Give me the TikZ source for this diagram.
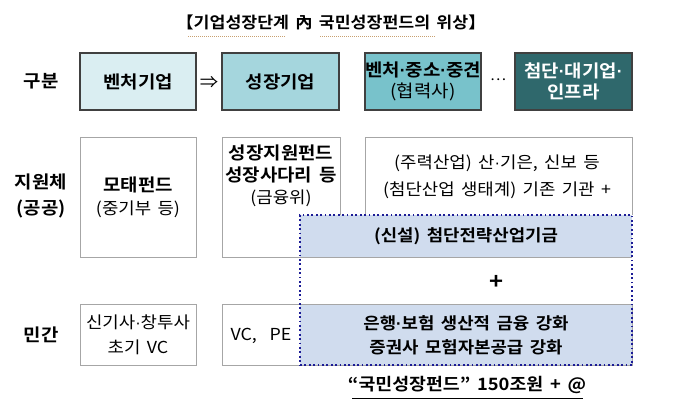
\documentclass[tikz,border=0pt]{standalone}
\usepackage{fontspec}
\setmainfont{Noto Sans CJK KR}[BoldFont={Noto Sans CJK KR Bold}, FakeStretch=1.08, WordSpace=1.6]
\newfontfamily\dotfont{Liberation Sans}
\newcommand\mdot{{\dotfont ·}}
\begin{document}
\begin{tikzpicture}[x=1pt,y=-1pt,
  txt/.style={font=\fontsize{16.5}{20}\selectfont, align=center, inner sep=0pt},
  btxt/.style={font=\fontsize{16.5}{20}\selectfont\bfseries, align=center, inner sep=0pt},
  topbox/.style={draw=black!75, line width=1.3pt, inner sep=0pt, align=center, font=\fontsize{17.5}{22}\selectfont\bfseries},
  graybox/.style={draw=black!35, line width=0.9pt, inner sep=0pt},
  dotbox/.style={draw=navy, line width=1.8pt, dash pattern=on 1.8pt off 2.6pt},
]
\definecolor{c1}{HTML}{DAEEF2}
\definecolor{c2}{HTML}{A5D6DD}
\definecolor{c3}{HTML}{78C2CB}
\definecolor{c4}{HTML}{2F686C}
\definecolor{bandblue}{HTML}{D0DCEE}
\definecolor{navy}{HTML}{1C1C96}
\definecolor{spell}{HTML}{C8A070}
\useasboundingbox (0,0) rectangle (700,417);
\fill[white] (0,0) rectangle (700,417);

% title
\node[font=\fontsize{16}{18}\selectfont\bfseries, inner sep=0pt] (title) at (331,22) {【기업성장단계 內 국민성장펀드의 위상】};
\draw[spell, line width=0.8pt, dash pattern=on 0.8pt off 1.2pt] (188,36) -- (285,36) (320,36) -- (435,36);

% row labels
\node[btxt, font=\fontsize{17.5}{21}\selectfont\bfseries] (l1) at (41,81) {구분};
\node[btxt, font=\fontsize{17.5}{26}\selectfont\bfseries] (l2) at (41,196) {지원체\\(공공)};
\node[btxt, font=\fontsize{17.5}{21}\selectfont\bfseries] (l3) at (41,335) {민간};

% row 1
\node[topbox, fill=c1, minimum width=116, minimum height=57] (b11) at (138,81.5) {벤처기업};
\node[topbox, fill=c2, minimum width=117, minimum height=57] (b12) at (280.5,81.5) {성장기업};
\node[topbox, fill=c3, minimum width=116, minimum height=57] (b13) at (423,81.5) {벤처\mdot 중소\mdot 중견\\[-1pt]{\mdseries (협력사)}};
\node[topbox, fill=c4, text=white, minimum width=117, minimum height=57] (b14) at (573.5,81.5) {첨단\mdot 대기업\mdot\\[-1pt]인프라};
\node[font=\fontsize{17}{18}\selectfont, inner sep=0pt] (arr) at (209,82) {⇒};
\node[font=\fontsize{14}{18}\selectfont, inner sep=0pt] (dots) at (498,80) {…};

% row 2
\node[graybox, minimum width=116, minimum height=120] (b21) at (138,197) {};
\node[graybox, minimum width=118, minimum height=120] (b22) at (281,197) {};
\draw[black!35, line width=0.9pt] (365,215) |- (632,137) -- (632,215);
\coordinate (b23) at (497,177);

% row 3
\node[graybox, minimum width=116, minimum height=61] (b31) at (138,334.5) {};
\node[graybox, minimum width=410, minimum height=61] (b32) at (427,334.5) {};

% blue bands
\fill[bandblue] (300,215) rectangle (632,257);
\draw[black!35, line width=0.9pt] (300,257) -- (632,257);
\fill[bandblue] (300,304.5) rectangle (632,365);
\node[dotbox, minimum width=332, minimum height=150, inner sep=0pt] (fund) at (466,290) {};

% texts row 2
\node[txt] (t21) at (138,197) {\textbf{\fontsize{17.5}{21}\selectfont 모태펀드}\\[3pt](중기부 등)};
\node[txt] (t22) at (281,176) {\textbf{\fontsize{17.5}{21}\selectfont 성장지원펀드}\\[2pt]\textbf{\fontsize{17.5}{21}\selectfont 성장사다리 등}\\[2pt](금융위)};
\node[txt, font=\fontsize{16.5}{27}\selectfont] (t23) at (b23) {(주력산업) 산\mdot 기은, 신보 등\\(첨단산업 생태계) 기존 기관 +};
\node[btxt] (t24) at (466,236) {(신설) 첨단전략산업기금};
\node[btxt, font=\fontsize{22}{22}\selectfont\bfseries] (plus) at (497,282) {+};
\node[btxt, font=\fontsize{16.5}{24}\selectfont\bfseries] (t25) at (466,335) {은행\mdot 보험 생산적 금융 강화\\증권사 모험자본공급 강화};

% texts row 3
\node[txt, font=\fontsize{16.5}{25}\selectfont] (t31) at (138,335) {신기사\mdot 창투사\\초기 VC};
\node[txt] (t32) at (261,336) {VC,\ \ PE};

% bottom
\node[btxt, font=\fontsize{17}{20}\selectfont\bfseries, inner sep=0pt] (total) at (467,385) {“국민성장펀드” 150조원 + @};
\draw[black, line width=1pt] (352,398) -- (583,398);
\end{tikzpicture}
\end{document}
